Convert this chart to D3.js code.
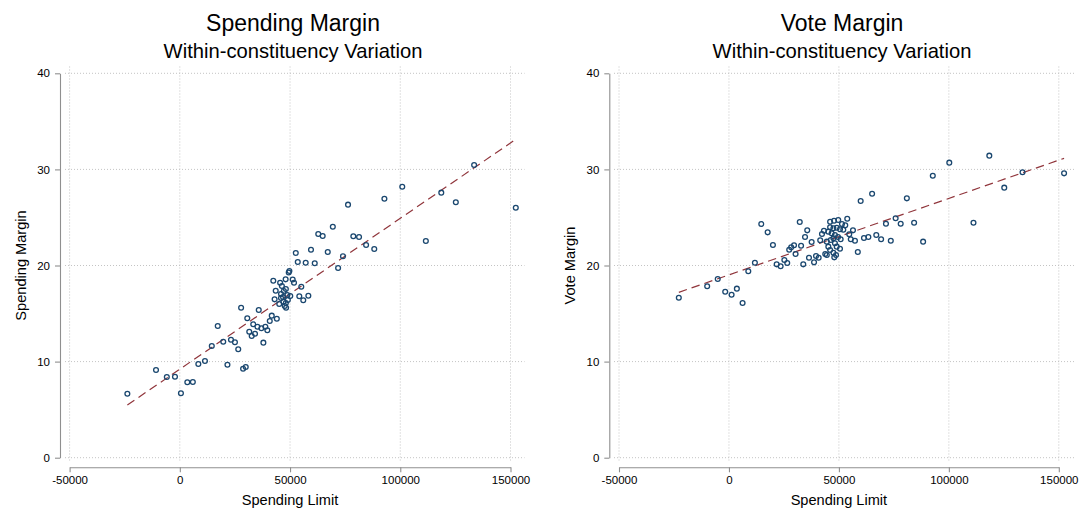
<!DOCTYPE html>
<html>
<head>
<meta charset="utf-8">
<script src="https://cdn.jsdelivr.net/npm/d3@7"></script>
<style>
  html, body { margin: 0; padding: 0; background: #fff; }
  svg { display: block; font-family: "Liberation Sans", Arial, Helvetica, sans-serif; }
</style>
</head>
<body>
<svg id="chart" width="1081" height="514"></svg>
<script>
// ---------------- DATA ----------------
const xTicks = [-50000, 0, 50000, 100000, 150000];
const yTicks = [0, 10, 20, 30, 40];

const titles = ["Spending Margin", "Vote Margin"];
const subtitle = "Within-constituency Variation";
const xTitle = "Spending Limit";
const yTitles = ["Spending Margin", "Vote Margin"];

// Left panel: Spending Limit vs Spending Margin
const spendLimitA = [
  -23800, -10800, -5900, -2200, 500, 3400, 5900, 8400, 11400, 14500,
  17200, 19700, 21600, 23200, 25000, 26500, 27800, 28700, 29900, 30600,
  31500, 32600, 33300, 34100, 35200, 35800, 37000, 37900, 38800, 39700,
  40800, 41700, 44000, 42400, 43500, 43000, 48000, 51200, 49700, 49400,
  45500, 51800, 55100, 50100, 48800, 54200, 58300, 56000, 47000, 45100,
  47600, 48200, 46300, 47200, 48100, 45900, 46800, 49000, 48100, 45900,
  133500, 100900, 118600, 125200, 152400, 92800, 76300, 69400, 62800, 64800,
  78700, 81300, 84500, 88200, 111600, 59500, 67100, 52600, 74000, 53500,
  57100, 61200, 71800
];
const spendMargin = [
  6.66, 9.13, 8.40, 8.43, 6.70, 7.85, 7.88, 9.75, 10.06, 11.62,
  13.70, 12.07, 9.68, 12.28, 12.01, 11.28, 15.61, 9.26, 9.44, 14.51,
  13.11, 12.66, 13.88, 12.90, 13.63, 15.37, 13.47, 11.97, 13.63, 13.26,
  14.22, 14.78, 14.46, 18.42, 17.38, 16.48, 18.56, 18.54, 19.43, 19.27,
  18.21, 18.21, 17.79, 16.83, 16.93, 16.80, 16.86, 16.38, 16.23, 15.99,
  15.79, 15.61, 17.87, 17.35, 17.55, 17.03, 16.72, 16.41, 16.10, 16.62,
  30.46, 28.20, 27.58, 26.58, 26.01, 26.95, 26.33, 24.04, 23.28, 23.07,
  23.04, 22.97, 22.13, 21.72, 22.55, 21.64, 21.40, 21.30, 20.96, 20.36,
  20.29, 20.23, 19.74
];
const fitA_x = [-23800, 152400];
const fitA_y = [5.48, 33.13];

// Right panel: Spending Limit vs Vote Margin
const spendLimitB = [
  118400, 100200, 92700, 133500, 152400, 125200, 65100, 59900, 80900, 111200,
  88300, 75800, 71400, 78100, 84200, 67000, 69200, 73600, 61400, 63400,
  58600, 56400, 57300, 55400, 53800, 52000, 14700, 17600, 20000, 32200,
  35600, 34600, 37600, 32800, 29600, 28300, 27400, 30300, 25200, 36400,
  39600, 40800, 43800, 41500, 42300, 43200, 38700, 33800, 54700, 52900,
  51400, 49700, 47800, 46000, 46000, 47500, 49000, 50500, 45200, 46700,
  48200, 47500, 46300, 44500, 48200, 45200, 49000, 50500, 46000, 47500,
  48700, 44500, 50800, 49600, 47900, -22800, -9900, -5100, -1700, 1200,
  3600, 6200, 8800, 11800, 21700, 23500, 26500
];
const voteMargin = [
  31.43, 30.70, 29.34, 29.70, 29.59, 28.10, 27.47, 26.71, 26.99, 24.45,
  22.48, 24.91, 24.35, 24.35, 24.45, 23.17, 22.73, 22.58, 22.86, 22.97,
  21.40, 23.66, 22.58, 22.73, 24.87, 23.73, 24.32, 23.45, 22.13, 24.53,
  23.66, 22.97, 22.45, 22.06, 22.10, 21.89, 21.64, 21.20, 20.57, 20.81,
  20.99, 20.81, 21.20, 22.62, 23.28, 23.62, 20.33, 20.12, 23.25, 24.18,
  24.32, 24.73, 24.66, 24.56, 23.98, 23.87, 23.93, 23.77, 23.52, 23.35,
  23.17, 22.83, 22.65, 22.48, 22.31, 21.96, 21.96, 21.75, 21.61, 21.33,
  21.09, 21.09, 22.73, 22.97, 20.85, 16.65, 17.84, 18.60, 17.27, 16.96,
  17.59, 16.10, 19.40, 20.29, 20.12, 19.92, 20.26
];
const fitB_x = [-22800, 152400];
const fitB_y = [17.21, 31.15];

// ---------------- DRAW ----------------
const svg = d3.select("#chart");
const FONT = '"Liberation Sans", Arial, Helvetica, sans-serif';
const markerColor = "#1a476f";
const fitColor = "#90353b";
const axisColor = "#8f8f8f";
const gridColor = "#c4c4c4";

const panels = [
  { xs: spendLimitA, ys: spendMargin, fx: fitA_x, fy: fitA_y,
    title: titles[0], yTitle: yTitles[0],
    xRange: [69.6, 510.5], yAxisX: 60, gridX: [65, 524.5], center: 293 },
  { xs: spendLimitB, ys: voteMargin, fx: fitB_x, fy: fitB_y,
    title: titles[1], yTitle: yTitles[1],
    xRange: [619, 1058.8], yAxisX: 609.3, gridX: [614, 1074], center: 842 }
];

const yRange = [457.7, 73.3];
const xAxisY = 467.3;
const gridYTop = 66.5, gridYBot = 462;

panels.forEach(p => {
  const g = svg.append("g");
  const x = d3.scaleLinear().domain([-50000, 150000]).range(p.xRange);
  const y = d3.scaleLinear().domain([0, 40]).range(yRange);

  // gridlines
  g.append("g").selectAll("line.h").data(yTicks).join("line")
    .attr("x1", p.gridX[0]).attr("x2", p.gridX[1])
    .attr("y1", d => y(d)).attr("y2", d => y(d))
    .attr("stroke", gridColor).attr("stroke-width", 1)
    .attr("stroke-dasharray", "1,2");
  g.append("g").selectAll("line.v").data(xTicks).join("line")
    .attr("x1", d => x(d)).attr("x2", d => x(d))
    .attr("y1", gridYTop).attr("y2", gridYBot)
    .attr("stroke", gridColor).attr("stroke-width", 1)
    .attr("stroke-dasharray", "1,2");

  // axes
  const xAxis = d3.axisBottom(x).tickValues(xTicks).tickSize(5).tickSizeOuter(0)
    .tickPadding(4).tickFormat(d => String(d));
  const gx = g.append("g").attr("transform", `translate(0,${xAxisY})`).call(xAxis);
  const yAxis = d3.axisLeft(y).tickValues(yTicks).tickSize(5).tickSizeOuter(0)
    .tickPadding(5).tickFormat(d => String(d));
  const gy = g.append("g").attr("transform", `translate(${p.yAxisX},0)`).call(yAxis);
  [gx, gy].forEach(a => {
    a.select(".domain").attr("stroke", axisColor).attr("stroke-width", 1.1);
    a.selectAll(".tick line").attr("stroke", axisColor).attr("stroke-width", 1.1);
    a.selectAll(".tick text").attr("fill", "#000")
      .style("font-family", FONT).style("font-size", "11.5px");
  });

  // fit line
  const fitData = p.fx.map((v, i) => [v, p.fy[i]]);
  g.append("path").datum(fitData)
    .attr("d", d3.line().x(d => x(d[0])).y(d => y(d[1])))
    .attr("fill", "none").attr("stroke", fitColor)
    .attr("stroke-width", 1.2).attr("stroke-dasharray", "8.5,5");

  // points
  const pts = p.xs.map((v, i) => [v, p.ys[i]]);
  g.append("g").selectAll("circle").data(pts).join("circle")
    .attr("cx", d => x(d[0])).attr("cy", d => y(d[1]))
    .attr("r", 2.4).attr("fill", "none")
    .attr("stroke", markerColor).attr("stroke-width", 1.3);

  // titles
  g.append("text").attr("x", p.center).attr("y", 31)
    .attr("text-anchor", "middle").style("font-size", "23px").style("font-family", FONT)
    .attr("fill", "#000").text(p.title);
  g.append("text").attr("x", p.center).attr("y", 57.5)
    .attr("text-anchor", "middle").style("font-size", "20.2px").style("font-family", FONT)
    .attr("fill", "#000").text(subtitle);

  // axis titles
  g.append("text").attr("x", (p.xRange[0] + p.xRange[1]) / 2).attr("y", 505)
    .attr("text-anchor", "middle").style("font-size", "14.6px").style("font-family", FONT)
    .attr("fill", "#000").text(xTitle);
  const yc = (yRange[0] + yRange[1]) / 2;
  const ytx = p.yAxisX - 39.3;
  g.append("text")
    .attr("transform", `translate(${ytx},${yc}) rotate(-90)`)
    .attr("dy", "0.35em")
    .attr("text-anchor", "middle").style("font-size", "14.6px").style("font-family", FONT)
    .attr("fill", "#000").text(p.yTitle);
});
</script>
</body>
</html>
